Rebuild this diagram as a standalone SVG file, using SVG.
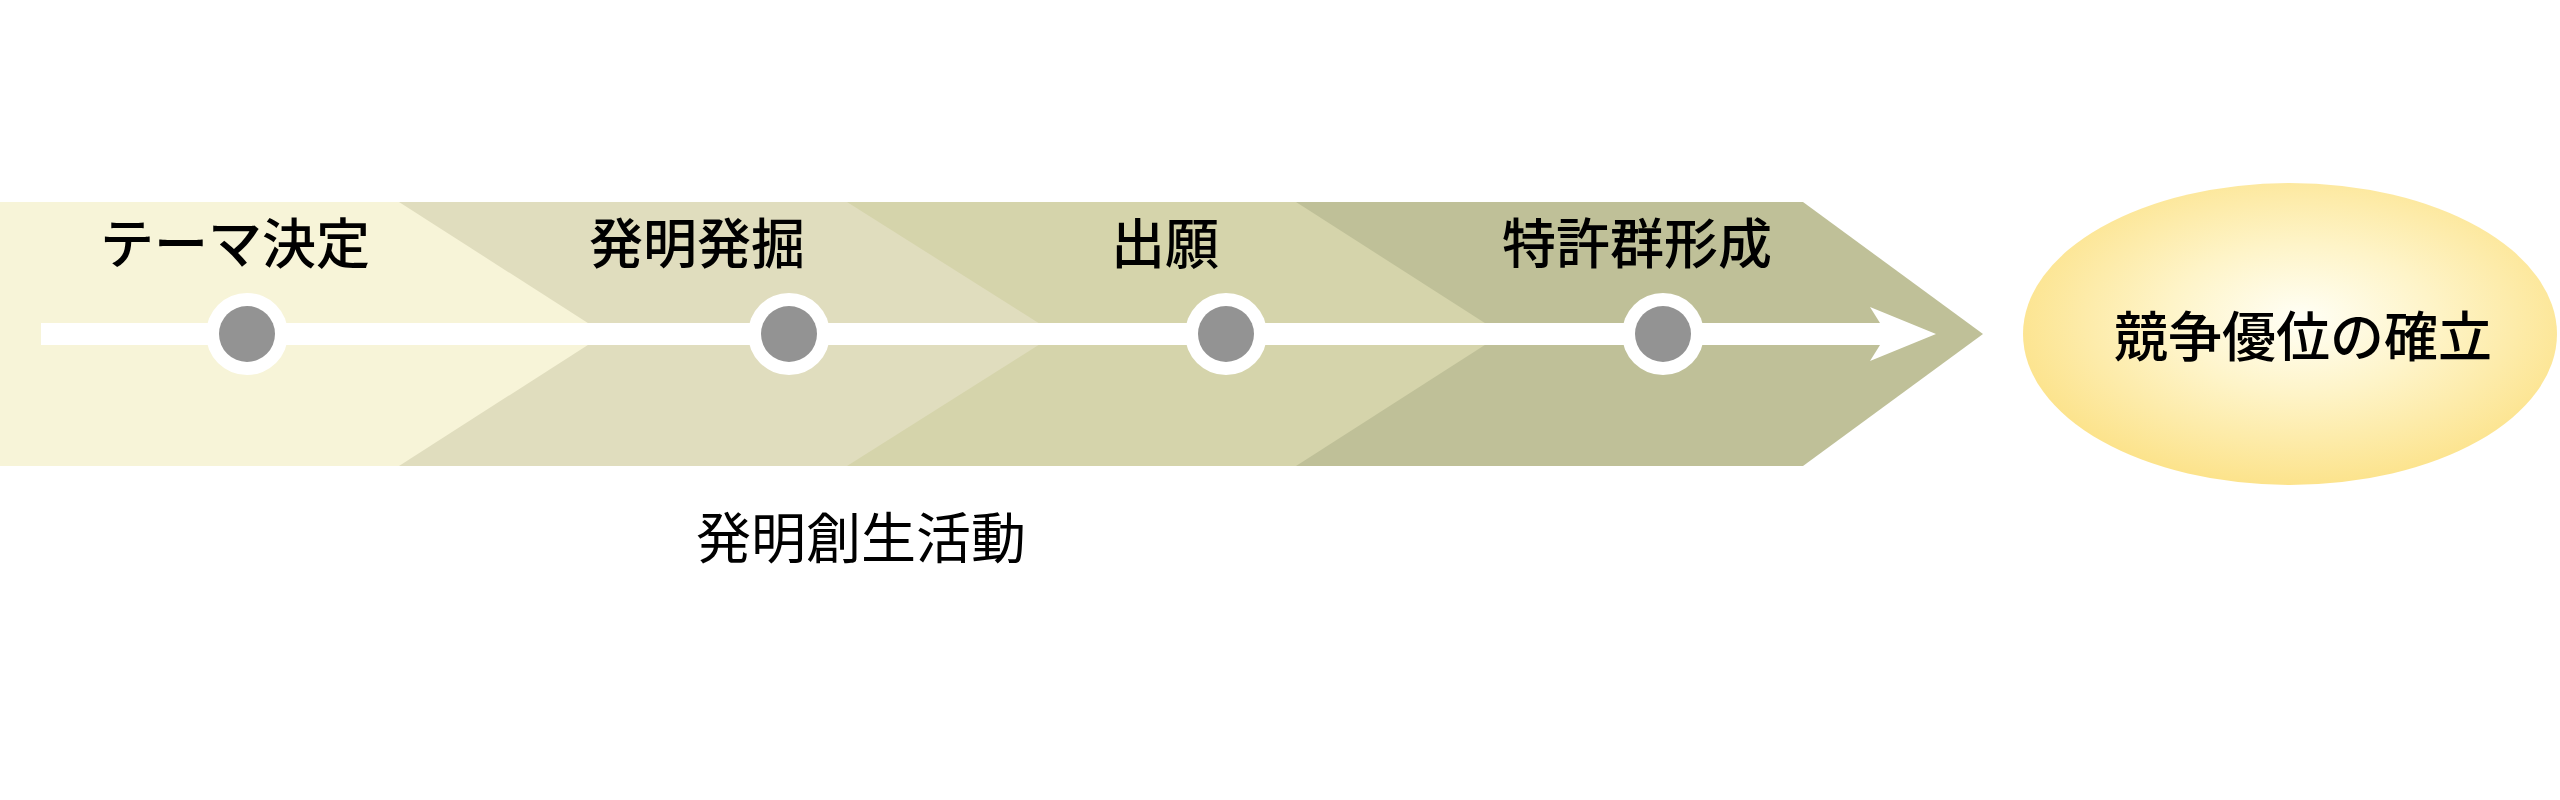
<svg xmlns="http://www.w3.org/2000/svg" width="2560" height="800" viewBox="0 0 2560 800">
<defs>
<style>
.lbl{font-family:"Noto Sans CJK JP","Noto Sans CJK SC",sans-serif;font-size:54px;font-weight:500;fill:#000;text-anchor:middle}
.sub{font-family:"Noto Sans CJK JP","Noto Sans CJK SC",sans-serif;font-size:55px;font-weight:400;fill:#000;text-anchor:middle}
.ring{fill:#fff}
.dot{fill:#939393}
</style>
<radialGradient id="glow" cx="0.52" cy="0.45" r="0.55">
<stop offset="0" stop-color="#FFFFF6"/>
<stop offset="0.45" stop-color="#FEF4C8"/>
<stop offset="1" stop-color="#FCE38C"/>
</radialGradient>
</defs>
<rect width="2560" height="800" fill="#fff"/>
<g id="stage4">
<polygon points="0,202 1803,202 1983,334 1803,466 0,466" fill="#BFC098"/>
</g>
<g id="stage3">
<polygon points="0,202 1296,202 1502,334 1296,466 0,466" fill="#D5D4AB"/>
</g>
<g id="stage2">
<polygon points="0,202 847,202 1056,334 847,466 0,466" fill="#E0DDBE"/>
</g>
<g id="stage1">
<polygon points="0,202 399,202 605,334 399,466 0,466" fill="#F7F4D8"/>
</g>
<g id="connectors">
<rect x="41" y="323" width="1840" height="22" fill="#fff"/>
<polygon points="1870,307 1936,334 1870,361 1880,345 1880,323" fill="#fff"/>
</g>
<g id="step1">
<circle class="ring" cx="247" cy="334" r="41"/>
<circle class="dot" cx="247" cy="334" r="28"/>
<text class="lbl" x="235" y="264">テーマ決定</text>
</g>
<g id="step2">
<circle class="ring" cx="789" cy="334" r="41"/>
<circle class="dot" cx="789" cy="334" r="28"/>
<text class="lbl" x="697" y="264">発明発掘</text>
</g>
<g id="step3">
<circle class="ring" cx="1226" cy="334" r="41"/>
<circle class="dot" cx="1226" cy="334" r="28"/>
<text class="lbl" x="1165" y="264">出願</text>
</g>
<g id="step4">
<circle class="ring" cx="1663" cy="334" r="41"/>
<circle class="dot" cx="1663" cy="334" r="28"/>
<text class="lbl" x="1637" y="264">特許群形成</text>
</g>
<g id="activity">
<text class="sub" x="861" y="558">発明創生活動</text>
</g>
<g id="goal">
<ellipse cx="2290" cy="334" rx="267" ry="151" fill="url(#glow)"/>
<text class="lbl" x="2303" y="357">競争優位の確立</text>
</g>
</svg>
